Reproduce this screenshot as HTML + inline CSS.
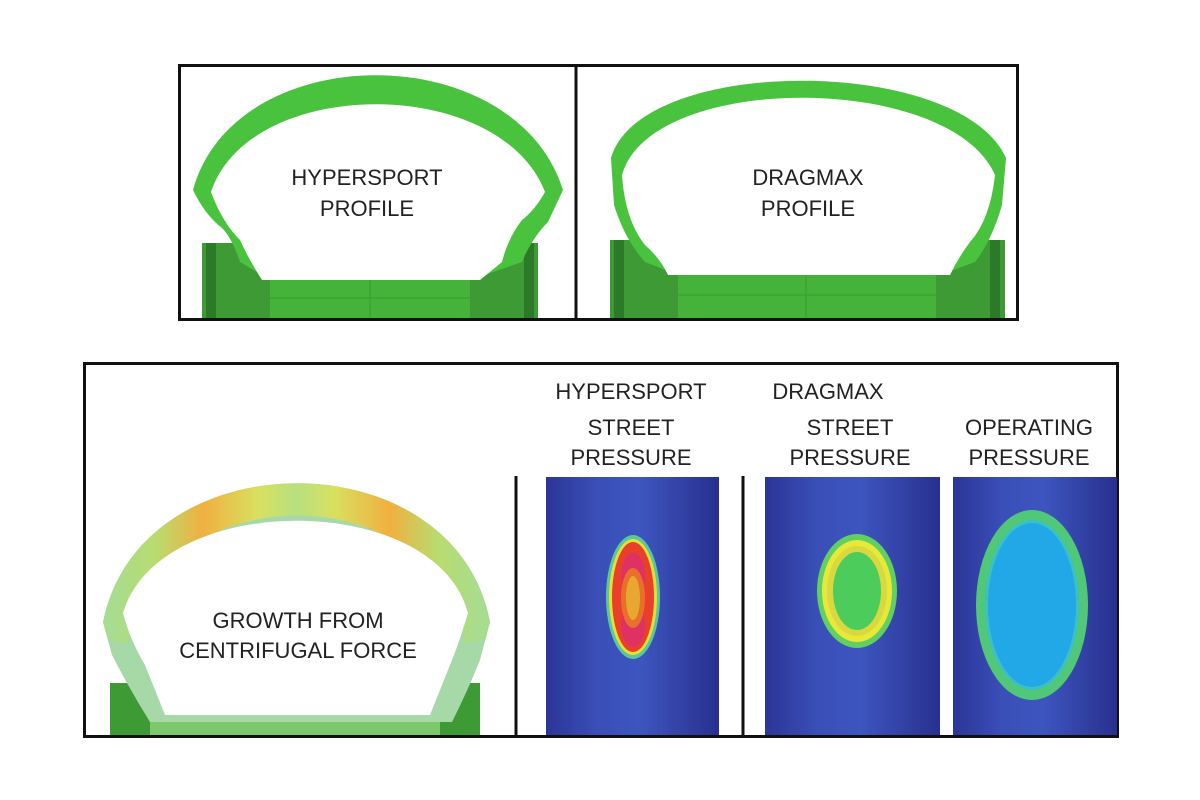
<!DOCTYPE html>
<html><head><meta charset="utf-8"><style>
html,body{margin:0;padding:0;background:#fff;width:1200px;height:800px;overflow:hidden}
svg text{font-family:"Liberation Sans",sans-serif;font-size:22px;fill:#222;text-anchor:middle}
</style></head><body>
<svg width="1200" height="800" viewBox="0 0 1200 800" xmlns="http://www.w3.org/2000/svg">
<defs>
<linearGradient id="bl" x1="0" x2="1" y1="0" y2="0">
<stop offset="0" stop-color="#2b3596"/><stop offset="0.3" stop-color="#3a4fb8"/><stop offset="0.55" stop-color="#3d55bf"/><stop offset="1" stop-color="#28308e"/>
</linearGradient>
<linearGradient id="heat" x1="0" x2="1">
<stop offset="0" stop-color="#a8dc90"/><stop offset="0.12" stop-color="#b8dc70"/><stop offset="0.25" stop-color="#f0b040"/><stop offset="0.4" stop-color="#d8e060"/><stop offset="0.5" stop-color="#b8e080"/><stop offset="0.6" stop-color="#d8e060"/><stop offset="0.75" stop-color="#f0b040"/><stop offset="0.88" stop-color="#b8dc70"/><stop offset="1" stop-color="#a8dc90"/>
</linearGradient>
<clipPath id="gc"><path d="M103,622 C 140,437 455,437 490,622 L480,660 Q468,690 452,722 L150,722 Q130,690 112,655 Z"/></clipPath>
</defs>
<!-- top box -->
<rect x="179.5" y="65.5" width="838" height="254" fill="#fff" stroke="#111" stroke-width="3"/>
<line x1="576" y1="65" x2="576" y2="320" stroke="#111" stroke-width="3"/>

<!-- hypersport tire -->
<g>
<rect x="202" y="243" width="70" height="75" fill="#3d9a35"/>
<rect x="470" y="243" width="68" height="75" fill="#3d9a35"/>
<rect x="206" y="243" width="10" height="75" fill="#2c7a28"/>
<rect x="524" y="243" width="10" height="75" fill="#2c7a28"/>
<rect x="270" y="280" width="200" height="38" fill="#45b23a"/>
<line x1="270" y1="298" x2="470" y2="298" stroke="#3a9a32"/>
<line x1="370" y1="280" x2="370" y2="318" stroke="#3a9a32"/>
<path d="M193,190 C 235,37 515,37 563,190 L548,222 Q532,238 522,262 L470,280 L270,280 L240,262 Q232,238 222,228 Q205,215 193,190 Z" fill="#49c23e"/>
<path d="M211,192 C 250,75 500,75 545,192 Q535,210 522,220 Q508,238 502,262 L480,280 L262,280 Q248,258 240,240 Q222,222 211,192 Z" fill="#fff"/>
</g>
<text x="367" y="185">HYPERSPORT</text>
<text x="367" y="216">PROFILE</text>

<!-- dragmax tire -->
<g>
<rect x="610" y="240" width="70" height="78" fill="#3d9a35"/>
<rect x="935" y="240" width="70" height="78" fill="#3d9a35"/>
<rect x="614" y="240" width="10" height="78" fill="#2c7a28"/>
<rect x="990" y="240" width="10" height="78" fill="#2c7a28"/>
<rect x="678" y="275" width="258" height="43" fill="#45b23a"/>
<line x1="678" y1="295" x2="936" y2="295" stroke="#3a9a32"/>
<line x1="806" y1="275" x2="806" y2="318" stroke="#3a9a32"/>
<path d="M611,158 C 640,55 960,55 1006,158 L1002,205 Q992,240 975,262 L940,275 L678,275 L645,262 Q625,240 614,205 Z" fill="#49c23e"/>
<path d="M622,175 C 650,72 950,72 995,175 Q990,220 970,242 Q958,258 950,275 L668,275 Q660,258 645,245 Q625,220 622,175 Z" fill="#fff"/>
</g>
<text x="808" y="185">DRAGMAX</text>
<text x="808" y="216">PROFILE</text>

<!-- bottom box -->
<rect x="84.5" y="363.5" width="1033" height="373" fill="#fff" stroke="#111" stroke-width="3"/>
<line x1="516" y1="476" x2="516" y2="737" stroke="#111" stroke-width="3"/>
<line x1="743" y1="476" x2="743" y2="737" stroke="#111" stroke-width="3"/>

<!-- growth tire -->
<g>
<rect x="110" y="683" width="45" height="52" fill="#3d9a35"/>
<rect x="435" y="683" width="45" height="52" fill="#3d9a35"/>
<rect x="150" y="718" width="290" height="17" fill="#7cc86a"/>
<g clip-path="url(#gc)">
<rect x="100" y="430" width="400" height="300" fill="#a6d8a8"/>
<path d="M110,640 C 145,450 450,450 483,640" fill="none" stroke="url(#heat)" stroke-width="36"/>
</g>
<path d="M123,613 C 160,490 435,490 468,613 Q460,640 452,660 Q440,690 430,715 L165,715 Q155,690 145,665 Q130,640 123,613 Z" fill="#fff"/>
</g>
<text x="298" y="628">GROWTH FROM</text>
<text x="298" y="658">CENTRIFUGAL FORCE</text>

<!-- headings -->
<text x="631" y="399">HYPERSPORT</text>
<text x="631" y="435">STREET</text>
<text x="631" y="465">PRESSURE</text>
<text x="828" y="399">DRAGMAX</text>
<text x="850" y="435">STREET</text>
<text x="850" y="465">PRESSURE</text>
<text x="1029" y="435">OPERATING</text>
<text x="1029" y="465">PRESSURE</text>

<!-- heat panels -->
<rect x="546" y="477" width="173" height="258" fill="url(#bl)"/>
<rect x="765" y="477" width="175" height="258" fill="url(#bl)"/>
<rect x="953" y="477" width="164" height="258" fill="url(#bl)"/>

<ellipse cx="633" cy="597" rx="27" ry="62" fill="#58c8a0"/>
<ellipse cx="633" cy="597" rx="24" ry="58" fill="#e8e030"/>
<ellipse cx="633" cy="597" rx="21" ry="55" fill="#e8402a"/>
<ellipse cx="633" cy="575" rx="12" ry="22" fill="#d8288a" opacity="0.6"/>
<ellipse cx="633" cy="625" rx="12" ry="22" fill="#d8288a" opacity="0.6"/>
<ellipse cx="633" cy="598" rx="12" ry="30" fill="#e8702a"/>
<ellipse cx="633" cy="598" rx="7" ry="22" fill="#e8a830"/>

<ellipse cx="857" cy="591" rx="40" ry="57" fill="#60d060"/>
<ellipse cx="857" cy="591" rx="35" ry="51" fill="#e8e838"/>
<ellipse cx="857" cy="591" rx="30" ry="45" fill="#d8d840"/>
<ellipse cx="857" cy="591" rx="24" ry="39" fill="#4ccc5a"/>

<ellipse cx="1032" cy="605" rx="56" ry="95" fill="#50c878"/>
<ellipse cx="1032" cy="605" rx="47" ry="85" fill="#3bc0c8"/>
<ellipse cx="1032" cy="605" rx="44" ry="82" fill="#22a8e6"/>
</svg>
</body></html>
